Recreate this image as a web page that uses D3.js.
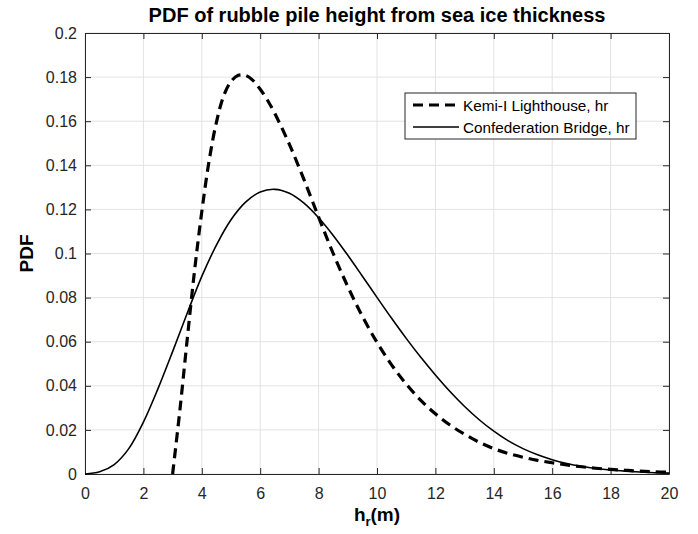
<!DOCTYPE html>
<html>
<head>
<meta charset="utf-8">
<script src="https://cdn.jsdelivr.net/npm/d3@7"></script>
<style>
  body { margin: 0; background: #fff; }
  svg { display: block; font-family: "Liberation Sans", Arial, Helvetica, sans-serif; }
</style>
</head>
<body>
<svg id="chart" width="698" height="534"></svg>
<script>
// ---- data ----
const xTicks = [0, 2, 4, 6, 8, 10, 12, 14, 16, 18, 20];
const yTicks = [0, 0.02, 0.04, 0.06, 0.08, 0.1, 0.12, 0.14, 0.16, 0.18, 0.2];
const yTickLabels = ["0", "0.02", "0.04", "0.06", "0.08", "0.1", "0.12", "0.14", "0.16", "0.18", "0.2"];

const kemiX = [3.0, 3.25, 3.5, 3.75, 4.0, 4.25, 4.5, 4.75, 5.0, 5.25, 5.5, 5.75, 6.0, 6.25, 6.5, 7.0, 7.5, 8.0, 8.5, 9.0, 9.5, 10, 10.5, 11, 11.5, 12, 12.5, 13, 13.5, 14, 14.5, 15, 15.5, 16, 16.5, 17, 17.5, 18, 18.5, 19, 19.5, 20];
const kemiY = [0, 0.029, 0.061, 0.092, 0.119, 0.142, 0.1595, 0.1715, 0.1780, 0.1808, 0.1808, 0.1785, 0.1745, 0.1695, 0.1635, 0.1495, 0.1335, 0.1165, 0.1000, 0.0850, 0.0715, 0.0597, 0.0495, 0.0408, 0.0334, 0.0273, 0.0222, 0.0180, 0.0144, 0.0115, 0.0093, 0.0076, 0.0062, 0.0051, 0.0041, 0.0033, 0.0026, 0.0021, 0.0017, 0.0013, 0.0010, 0.0008];

const confX = [0, 0.5, 1, 1.5, 2, 2.5, 3, 3.5, 4, 4.5, 5, 5.5, 6, 6.5, 7, 7.5, 8, 8.5, 9, 9.5, 10, 10.5, 11, 11.5, 12, 12.5, 13, 13.5, 14, 14.5, 15, 15.5, 16, 16.5, 17, 17.5, 18, 18.5, 19, 19.5, 20];
const confY = [0, 0.0010, 0.0043, 0.0115, 0.0235, 0.0387, 0.0555, 0.0729, 0.0896, 0.1038, 0.1153, 0.1233, 0.1279, 0.1291, 0.1273, 0.1228, 0.1162, 0.1082, 0.0992, 0.0897, 0.0801, 0.0706, 0.0615, 0.0529, 0.0449, 0.0374, 0.0306, 0.0246, 0.0194, 0.0150, 0.0115, 0.0087, 0.0065, 0.0048, 0.0035, 0.0025, 0.0018, 0.0013, 0.0009, 0.0006, 0.0004];

const seriesNames = ["Kemi-I Lighthouse, hr", "Confederation Bridge, hr"];
const titleText = "PDF of rubble pile height from sea ice thickness";

// ---- layout ----
const L = 85, R = 669, T = 33, B = 474;
const textColor = "#262626";
const svg = d3.select("#chart");

const x = d3.scaleLinear().domain([0, 20]).range([L, R]);
const y = d3.scaleLinear().domain([0, 0.2]).range([B, T]);

// grid
const grid = svg.append("g");
grid.selectAll("line.gx").data(xTicks).join("line")
  .attr("x1", d => x(d)).attr("x2", d => x(d)).attr("y1", T).attr("y2", B)
  .attr("stroke", "#e3e3e3").attr("stroke-width", 1);
grid.selectAll("line.gy").data(yTicks).join("line")
  .attr("y1", d => y(d)).attr("y2", d => y(d)).attr("x1", L).attr("x2", R)
  .attr("stroke", "#e3e3e3").attr("stroke-width", 1);

// axes
const tickLen = 6;
const xAxisB = d3.axisBottom(x).tickValues(xTicks).tickSizeInner(-tickLen).tickSizeOuter(0).tickPadding(14).tickFormat(d3.format("d"));
const xAxisT = d3.axisTop(x).tickValues(xTicks).tickSizeInner(-tickLen).tickSizeOuter(0).tickFormat("");
const yAxisL = d3.axisLeft(y).tickValues(yTicks).tickSizeInner(-tickLen).tickSizeOuter(0).tickPadding(8)
  .tickFormat((d, i) => yTickLabels[i]);
const yAxisR = d3.axisRight(y).tickValues(yTicks).tickSizeInner(-tickLen).tickSizeOuter(0).tickFormat("");

function styleAxis(g) {
  g.selectAll("path").attr("stroke", textColor).attr("stroke-width", 1);
  g.selectAll("line").attr("stroke", textColor).attr("stroke-width", 1);
  g.selectAll("text").attr("fill", textColor).style("font-size", "16px")
    .style("font-family", '"Liberation Sans", Arial, sans-serif');
}

svg.append("g").attr("transform", `translate(0,${B})`).call(xAxisB).call(styleAxis);
svg.append("g").attr("transform", `translate(0,${T})`).call(xAxisT).call(styleAxis);
svg.append("g").attr("transform", `translate(${L},0)`).call(yAxisL).call(styleAxis);
svg.append("g").attr("transform", `translate(${R},0)`).call(yAxisR).call(styleAxis);

// lines
const line = d3.line().x(d => x(d[0])).y(d => y(d[1])).curve(d3.curveCatmullRom.alpha(0.5));
const kemi = kemiX.map((v, i) => [v, kemiY[i]]);
const conf = confX.map((v, i) => [v, confY[i]]);

svg.append("path").datum(conf).attr("d", line)
  .attr("fill", "none").attr("stroke", "#000").attr("stroke-width", 1.6);
svg.append("path").datum(kemi).attr("d", line)
  .attr("fill", "none").attr("stroke", "#000").attr("stroke-width", 3.2)
  .attr("stroke-dasharray", "10,6");

// title
svg.append("text").attr("x", (L + R) / 2).attr("y", 22).attr("text-anchor", "middle")
  .attr("fill", "#000").style("font-weight", "bold").style("font-size", "20px").text(titleText);

// x label
const xl = svg.append("text").attr("x", (L + R) / 2).attr("y", 521).attr("text-anchor", "middle")
  .attr("fill", "#000").style("font-weight", "bold").style("font-size", "19px");
xl.append("tspan").text("h");
xl.append("tspan").attr("dy", 5).style("font-size", "13px").text("r");
xl.append("tspan").attr("dy", -5).text("(m)");

// y label
svg.append("text").attr("transform", `translate(33,${(T + B) / 2}) rotate(-90)`)
  .attr("text-anchor", "middle").attr("fill", "#000")
  .style("font-weight", "bold").style("font-size", "19px").text("PDF");

// legend
const lg = svg.append("g");
const lx0 = 405, lx1 = 636, ly0 = 93, ly1 = 139;
lg.append("rect").attr("x", lx0).attr("y", ly0).attr("width", lx1 - lx0).attr("height", ly1 - ly0)
  .attr("fill", "#fff").attr("stroke", textColor).attr("stroke-width", 1);
const rows = [105, 127];
lg.append("line").attr("x1", 413).attr("x2", 460).attr("y1", rows[0]).attr("y2", rows[0])
  .attr("stroke", "#000").attr("stroke-width", 3.2).attr("stroke-dasharray", "10,6");
lg.append("line").attr("x1", 413).attr("x2", 459).attr("y1", rows[1]).attr("y2", rows[1])
  .attr("stroke", "#000").attr("stroke-width", 1.6);
seriesNames.forEach((s, i) => {
  lg.append("text").attr("x", 463).attr("y", rows[i] + 5.5).attr("fill", "#000")
    .style("font-size", "15.3px").text(s);
});
</script>
</body>
</html>
